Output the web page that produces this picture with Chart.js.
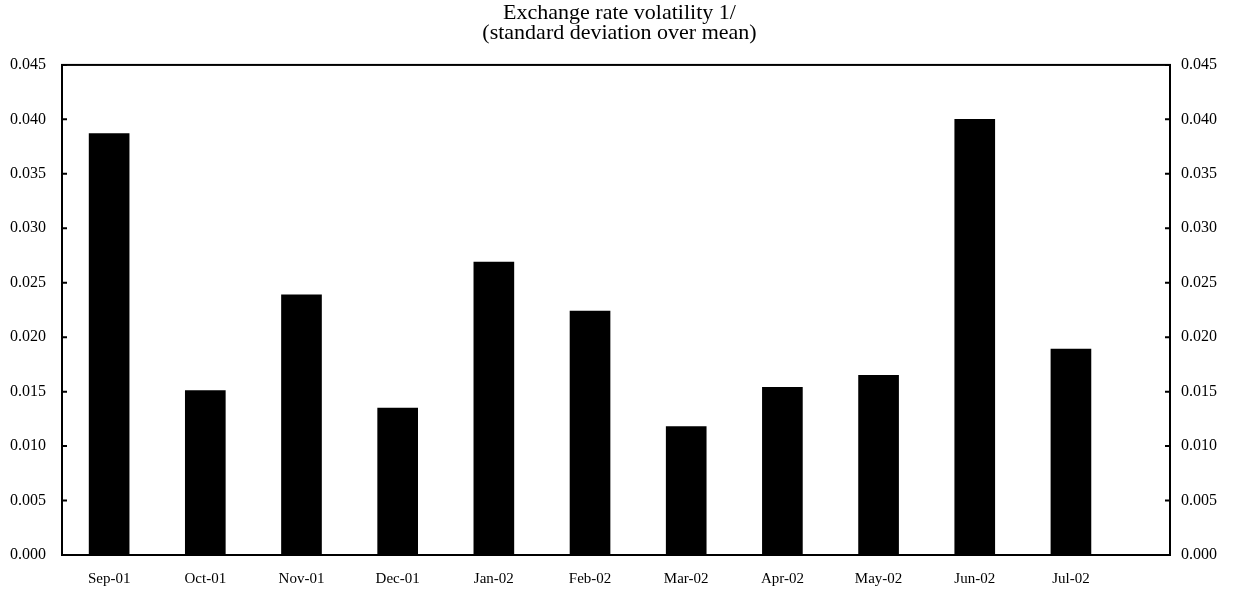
<!DOCTYPE html>
<html lang="en">

<head>
  <meta charset="UTF-8" />
  <title>Exchange rate volatility</title>
  <script src="https://cdn.jsdelivr.net/npm/chart.js"></script>
  <style>
    body {
      margin: 0;
      background: #ffffff;
    }

    #wrap {
      width: 1239px;
      height: 599px;
    }
  </style>
</head>

<body>
  <div id="wrap"><canvas id="volChart" width="1239" height="599"></canvas></div>

  <script>
    const months = ["Sep-01", "Oct-01", "Nov-01", "Dec-01", "Jan-02", "Feb-02",
      "Mar-02", "Apr-02", "May-02", "Jun-02", "Jul-02"];
    const volatility = [0.0387, 0.0151, 0.0239, 0.0135, 0.0269, 0.0224,
      0.0118, 0.0154, 0.0165, 0.0400, 0.0189];
    const yTicks = [0, 0.005, 0.010, 0.015, 0.020, 0.025, 0.030, 0.035, 0.040, 0.045];

    const serif = "'Liberation Serif', 'Times New Roman', serif";

    // box around the plot plus short inward tick marks
    const frame = {
      id: "frame",
      afterDatasetsDraw(chart) {
        const { ctx, chartArea: a, scales } = chart;
        ctx.save();
        ctx.strokeStyle = "#000";
        ctx.lineWidth = 2;
        ctx.strokeRect(a.left, a.top, a.right - a.left, a.bottom - a.top);
        ctx.beginPath();
        yTicks.forEach(v => {
          const yl = scales.y.getPixelForValue(v);
          ctx.moveTo(a.left, yl);
          ctx.lineTo(a.left + 5, yl);
          const yr = scales.y2.getPixelForValue(v);
          ctx.moveTo(a.right, yr);
          ctx.lineTo(a.right - 5, yr);
        });
        ctx.stroke();
        ctx.restore();
      }
    };

    const yAxis = (position, pad, width) => ({
      type: "linear",
      position,
      min: 0,
      max: 0.045,
      afterBuildTicks: s => { s.ticks = yTicks.map(v => ({ value: v })); },
      afterFit: s => { s.width = width; },
      grid: { display: false, drawTicks: false },
      border: { display: false },
      ticks: {
        padding: pad,
        color: "#000",
        font: { family: serif, size: 16 },
        callback: v => v.toFixed(3)
      }
    });

    new Chart(document.getElementById("volChart"), {
      type: "bar",
      data: {
        datasets: [{
          data: months.map((m, i) => ({ x: i, y: volatility[i] })),
          backgroundColor: "#000",
          borderWidth: 0,
          barThickness: 40,
          yAxisID: "y"
        }]
      },
      options: {
        responsive: false,
        animation: false,
        layout: { padding: 0 },
        plugins: {
          legend: { display: false },
          tooltip: { enabled: false },
          title: {
            display: true,
            text: ["Exchange rate volatility 1/", "(standard deviation over mean)"],
            color: "#000",
            font: { family: serif, size: 22, weight: "normal", lineHeight: 0.93 },
            padding: { top: 3, bottom: 21 }
          }
        },
        scales: {
          x: {
            type: "linear",
            offset: false,
            min: -0.49,
            max: 11.03,
            afterBuildTicks: s => { s.ticks = months.map((m, i) => ({ value: i })); },
            afterFit: s => { s.height = 44; },
            grid: { display: false, drawTicks: false },
            border: { display: false },
            ticks: {
              padding: 15,
              color: "#000",
              maxRotation: 0,
              font: { family: serif, size: 15 },
              callback: v => months[v]
            }
          },
          y: yAxis("left", 16, 62),
          y2: yAxis("right", 11, 69)
        }
      },
      plugins: [frame]
    });
  </script>
</body>

</html>
